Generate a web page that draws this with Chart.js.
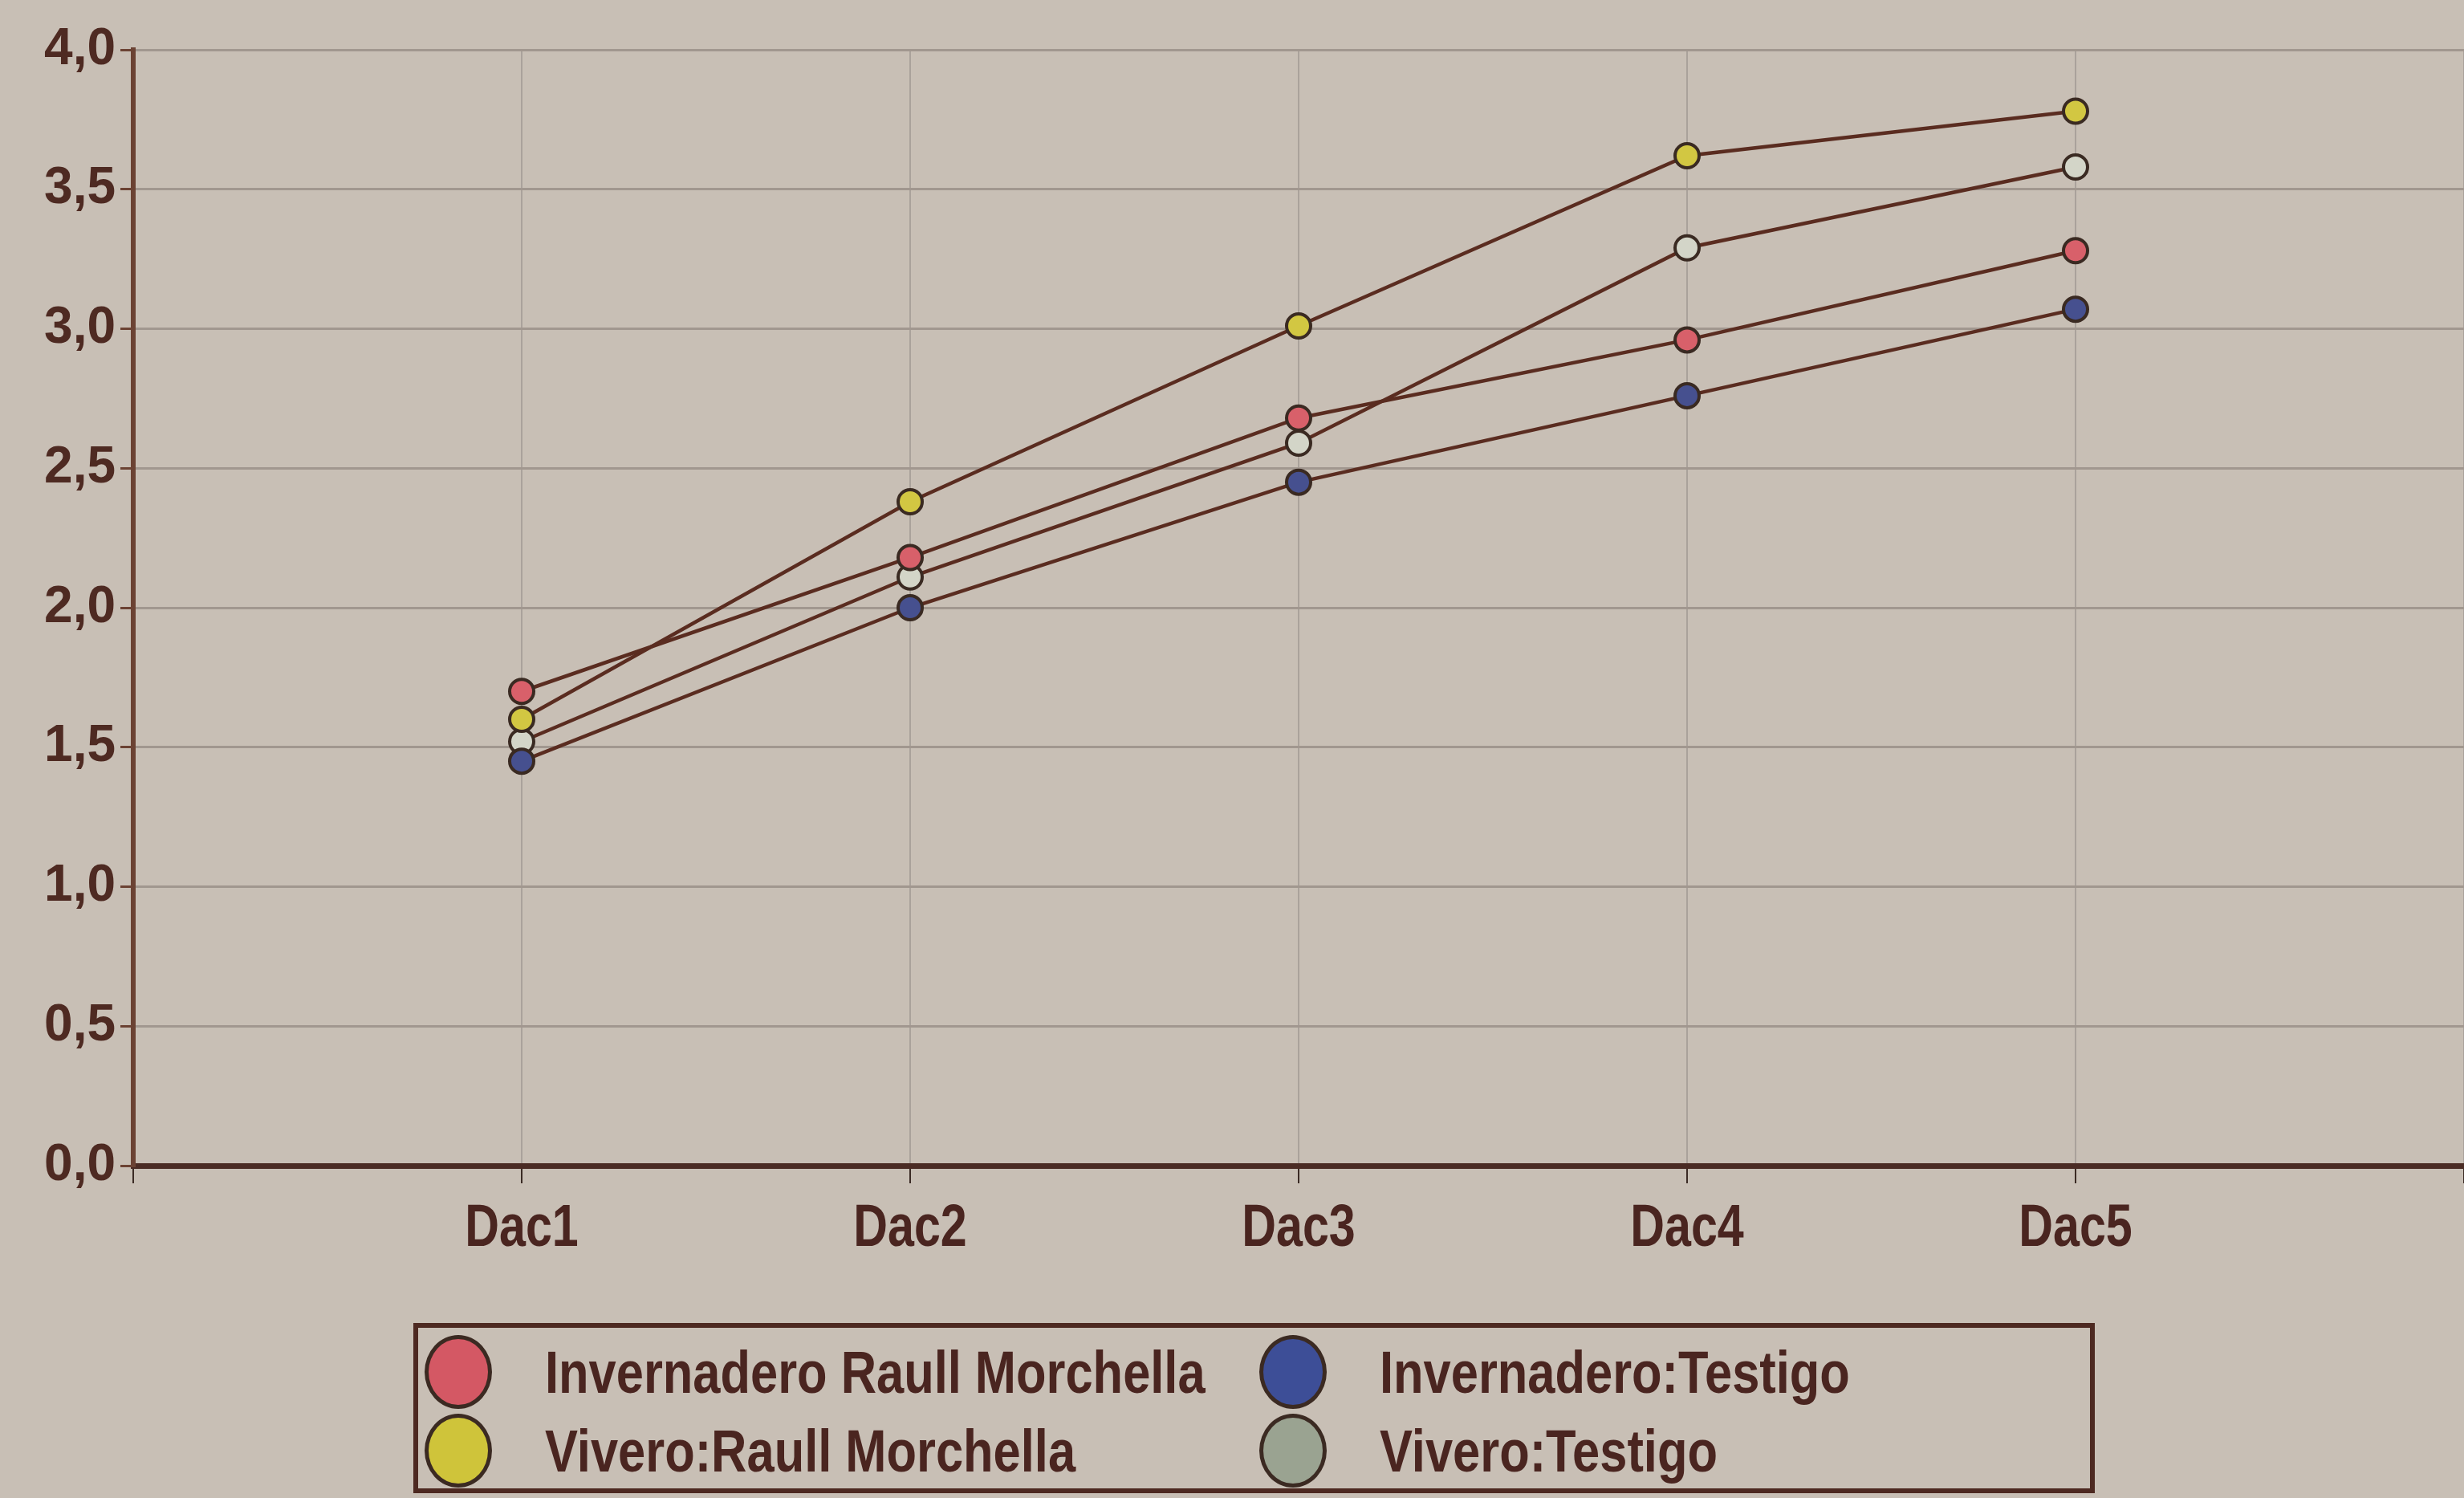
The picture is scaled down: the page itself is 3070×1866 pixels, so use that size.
<!DOCTYPE html>
<html>
<head>
<meta charset="utf-8">
<title>Crecimiento por Dac</title>
<script src="https://cdn.jsdelivr.net/npm/chart.js@4/dist/chart.umd.min.js"></script>
<style>
  html, body { margin: 0; padding: 0; width: 3070px; height: 1866px; overflow: hidden; background: #c8bfb5; }
  #chart { position: absolute; left: 0; top: 0; }
  #legend {
    position: absolute; left: 515px; top: 1648px; width: 2095px; height: 212px;
    border: 6px solid #4d2921; box-sizing: border-box;
    font-family: 'Liberation Sans', Arial, sans-serif; font-weight: bold; color: #4a2520;
  }
  .item { position: absolute; height: 90px; display: flex; align-items: center; }
  .mark { width: 84px; height: 92px; border-radius: 50%; border: 5px solid #3b2a22; box-sizing: border-box; flex: none; }
  .txt { margin-left: 66px; font-size: 74px; white-space: nowrap; transform: scaleX(0.83); transform-origin: left center; }
</style>
</head>
<body>
<canvas id="chart" width="3070" height="1866"></canvas>
<div id="legend"></div>
<script>
// Categories along the x axis
const categories = ['Dac1', 'Dac2', 'Dac3', 'Dac4', 'Dac5'];

// Series values (one per category)
const invernaderoRaull   = [1.70, 2.18, 2.68, 2.96, 3.28];
const invernaderoTestigo = [1.45, 2.00, 2.45, 2.76, 3.07];
const viveroRaull        = [1.60, 2.38, 3.01, 3.62, 3.78];
const viveroTestigo      = [1.52, 2.11, 2.59, 3.29, 3.58];

// Series names, in legend order
const seriesNames = ['Invernadero Raull Morchella', 'Invernadero:Testigo', 'Vivero:Raull Morchella', 'Vivero:Testigo'];

// Y axis tick values
const yTicks = [0, 0.5, 1, 1.5, 2, 2.5, 3, 3.5, 4];

const seriesValues = [invernaderoRaull, invernaderoTestigo, viveroRaull, viveroTestigo];
const pointFills  = ['#d8606a', '#46508f', '#d2c742', '#d3d5c8'];
const legendFills = ['#d45864', '#3d4e97', '#cfc43a', '#9aa391'];

const toPoints = vals => categories.map((c, i) => ({ x: i + 1, y: vals[i] }));

const datasets = seriesValues.map((vals, i) => ({
  label: seriesNames[i],
  data: toPoints(vals),
  borderColor: '#5a2c20',
  borderWidth: 4.5,
  pointRadius: 15,
  pointBorderWidth: 4,
  pointBorderColor: '#3a2a22',
  pointBackgroundColor: pointFills[i],
  tension: 0,
  fill: false
}));

// Category labels under the x axis, drawn in a narrow (horizontally condensed) face
// at the pixel positions given by the x scale.
const condensedXLabels = {
  id: 'condensedXLabels',
  afterDraw(chart) {
    const sx = chart.scales.x;
    const ctx = chart.ctx;
    const y = sx.top + 80;
    ctx.save();
    ctx.fillStyle = '#4a2520';
    ctx.font = "bold 74px 'Liberation Sans', Arial, sans-serif";
    ctx.textAlign = 'center';
    ctx.textBaseline = 'middle';
    categories.forEach((label, i) => {
      const x = sx.getPixelForValue(i + 1);
      ctx.save();
      ctx.translate(x, y);
      ctx.scale(0.8, 1);
      ctx.fillText(label, 0, 0);
      ctx.restore();
    });
    ctx.restore();
  }
};

const chart = new Chart(document.getElementById('chart'), {
  type: 'line',
  data: { datasets },
  plugins: [condensedXLabels],
  options: {
    responsive: false,
    devicePixelRatio: 1,
    animation: false,
    layout: { autoPadding: false, padding: { top: 62, left: 0, right: 0, bottom: 0 } },
    plugins: { legend: { display: false }, tooltip: { enabled: false } },
    scales: {
      x: {
        type: 'linear',
        min: 0,
        max: categories.length + 1,
        afterBuildTicks: s => { s.ticks = Array.from({ length: categories.length + 2 }, (_, i) => ({ value: i })); },
        afterFit: s => { s.height = 414; s.paddingLeft = 0; s.paddingRight = 0; },
        ticks: { display: false },
        grid: { color: '#aaa29b', lineWidth: 2, tickColor: '#3b2b25', tickLength: 22, tickWidth: 2 },
        border: { color: '#4a2b24', width: 7 }
      },
      y: {
        min: yTicks[0],
        max: yTicks[yTicks.length - 1],
        afterBuildTicks: s => { s.ticks = yTicks.map(v => ({ value: v })); },
        afterFit: s => { s.width = 166; },
        ticks: {
          padding: 6,
          color: '#4e2a22',
          font: { family: "'Liberation Sans', Arial, sans-serif", size: 64, weight: 'bold' },
          callback: v => v.toFixed(1).replace('.', ',')
        },
        grid: { color: '#a1978f', lineWidth: 3, tickColor: '#6b4233', tickLength: 16, tickWidth: 3 },
        border: { color: '#6b4233', width: 6 }
      }
    }
  }
});

// HTML legend built from the chart's datasets: two columns, two rows
const legend = document.getElementById('legend');
chart.data.datasets.forEach((ds, i) => {
  const col = i % 2, row = Math.floor(i / 2);
  const item = document.createElement('div');
  item.className = 'item';
  item.style.left = (8 + col * 1040) + 'px';
  item.style.top = (10 + row * 98) + 'px';
  const mark = document.createElement('div');
  mark.className = 'mark';
  mark.style.background = legendFills[i];
  const txt = document.createElement('span');
  txt.className = 'txt';
  txt.textContent = ds.label;
  item.appendChild(mark);
  item.appendChild(txt);
  legend.appendChild(item);
});
</script>
</body>
</html>
